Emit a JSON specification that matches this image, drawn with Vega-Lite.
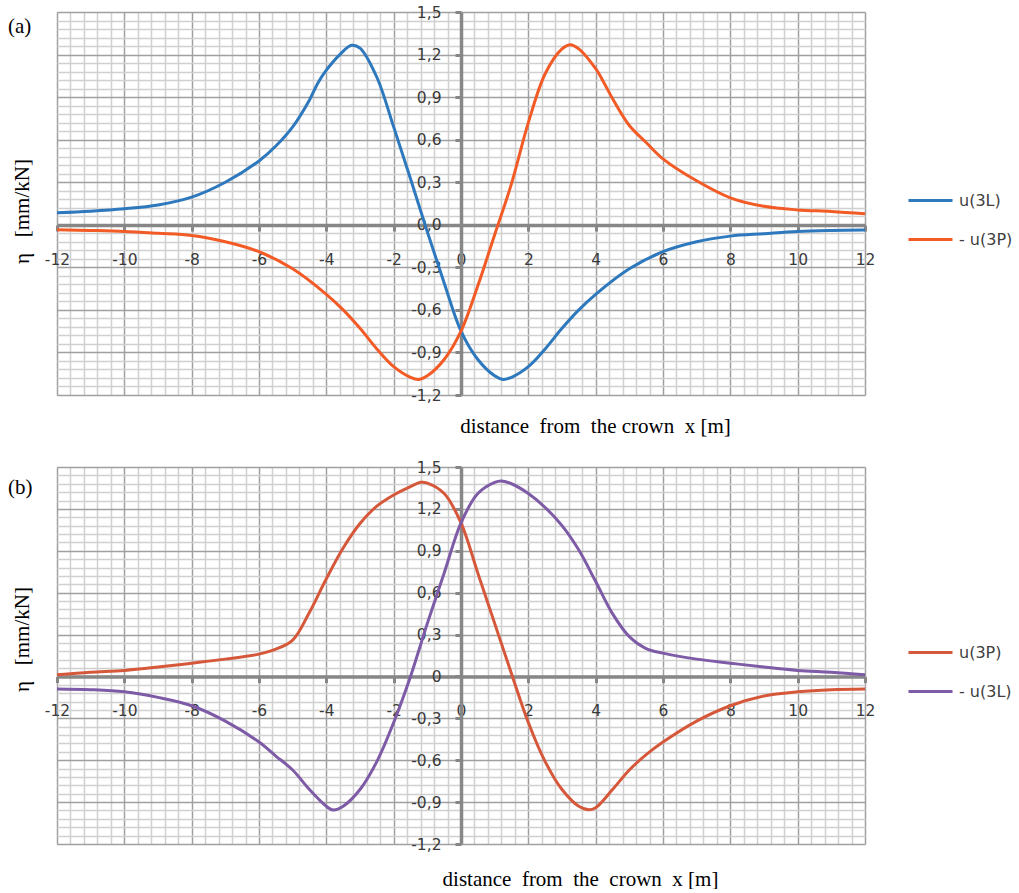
{
  "$schema": "https://vega.github.io/schema/vega-lite/v6.json",
  "padding": {"left": 8, "top": 5, "right": 5, "bottom": 0},
  "config": {
    "view": {"stroke": null},
    "axis": {"zindex": 0, "labelFlush": false, "labelOverlap": false},
    "legend": {
      "orient": "none", "title": null,
      "symbolType": "stroke", "symbolSize": 1936, "symbolStrokeWidth": 3,
      "labelFont": "DejaVu Sans", "labelFontSize": 16, "labelColor": "#404040",
      "rowPadding": 7, "labelOffset": 5, "padding": 0
    }
  },
  "spacing": 72,
  "bounds": "flush",
  "resolve": {"scale": {"color": "independent"}, "legend": {"color": "independent"}},
  "vconcat": [
    {
      "width": 808,
      "height": 383,
      "title": {"text": "(a)", "orient": "none", "anchor": "start", "frame": "group", "font": "Liberation Serif", "fontSize": 21, "fontWeight": "normal", "color": "#000000", "baseline": "alphabetic", "offset": 0, "dx": -49, "dy": 21},
      "resolve": {"axis": {"x": "independent", "y": "independent"}},
      "layer": [
        {
          "data": {"values": [
            {"x": -12, "y": 0.085, "s": "u(3L)"}, {"x": -11, "y": 0.096, "s": "u(3L)"}, {"x": -10, "y": 0.113, "s": "u(3L)"},
            {"x": -9, "y": 0.14, "s": "u(3L)"}, {"x": -8, "y": 0.195, "s": "u(3L)"}, {"x": -7, "y": 0.3, "s": "u(3L)"},
            {"x": -6, "y": 0.45, "s": "u(3L)"}, {"x": -5.5, "y": 0.555, "s": "u(3L)"}, {"x": -5, "y": 0.69, "s": "u(3L)"},
            {"x": -4.5, "y": 0.88, "s": "u(3L)"}, {"x": -4.25, "y": 1.0, "s": "u(3L)"}, {"x": -4, "y": 1.09, "s": "u(3L)"},
            {"x": -3.6, "y": 1.2, "s": "u(3L)"}, {"x": -3.25, "y": 1.265, "s": "u(3L)"}, {"x": -3, "y": 1.245, "s": "u(3L)"},
            {"x": -2.5, "y": 1.04, "s": "u(3L)"}, {"x": -2, "y": 0.69, "s": "u(3L)"}, {"x": -1.5, "y": 0.325, "s": "u(3L)"},
            {"x": -1, "y": -0.05, "s": "u(3L)"}, {"x": -0.5, "y": -0.41, "s": "u(3L)"}, {"x": 0, "y": -0.75, "s": "u(3L)"},
            {"x": 0.5, "y": -0.95, "s": "u(3L)"}, {"x": 1, "y": -1.065, "s": "u(3L)"}, {"x": 1.25, "y": -1.09, "s": "u(3L)"},
            {"x": 1.5, "y": -1.075, "s": "u(3L)"}, {"x": 2, "y": -1.0, "s": "u(3L)"}, {"x": 2.5, "y": -0.875, "s": "u(3L)"},
            {"x": 3, "y": -0.73, "s": "u(3L)"}, {"x": 3.5, "y": -0.6, "s": "u(3L)"}, {"x": 4, "y": -0.49, "s": "u(3L)"},
            {"x": 5, "y": -0.31, "s": "u(3L)"}, {"x": 6, "y": -0.19, "s": "u(3L)"}, {"x": 7, "y": -0.12, "s": "u(3L)"},
            {"x": 8, "y": -0.08, "s": "u(3L)"}, {"x": 9, "y": -0.063, "s": "u(3L)"}, {"x": 10, "y": -0.047, "s": "u(3L)"},
            {"x": 11, "y": -0.04, "s": "u(3L)"}, {"x": 12, "y": -0.037, "s": "u(3L)"},
            {"x": -12, "y": -0.035, "s": "- u(3P)"}, {"x": -11, "y": -0.04, "s": "- u(3P)"}, {"x": -10, "y": -0.047, "s": "- u(3P)"},
            {"x": -9, "y": -0.06, "s": "- u(3P)"}, {"x": -8, "y": -0.075, "s": "- u(3P)"}, {"x": -7, "y": -0.12, "s": "- u(3P)"},
            {"x": -6, "y": -0.19, "s": "- u(3P)"}, {"x": -5, "y": -0.31, "s": "- u(3P)"}, {"x": -4, "y": -0.49, "s": "- u(3P)"},
            {"x": -3.5, "y": -0.6, "s": "- u(3P)"}, {"x": -3, "y": -0.73, "s": "- u(3P)"}, {"x": -2.5, "y": -0.875, "s": "- u(3P)"},
            {"x": -2, "y": -1.0, "s": "- u(3P)"}, {"x": -1.5, "y": -1.075, "s": "- u(3P)"}, {"x": -1.25, "y": -1.09, "s": "- u(3P)"},
            {"x": -1, "y": -1.065, "s": "- u(3P)"}, {"x": -0.5, "y": -0.95, "s": "- u(3P)"}, {"x": 0, "y": -0.75, "s": "- u(3P)"},
            {"x": 0.5, "y": -0.43, "s": "- u(3P)"}, {"x": 1, "y": -0.07, "s": "- u(3P)"}, {"x": 1.5, "y": 0.29, "s": "- u(3P)"},
            {"x": 2, "y": 0.72, "s": "- u(3P)"}, {"x": 2.5, "y": 1.065, "s": "- u(3P)"}, {"x": 3, "y": 1.24, "s": "- u(3P)"},
            {"x": 3.25, "y": 1.27, "s": "- u(3P)"}, {"x": 3.5, "y": 1.24, "s": "- u(3P)"}, {"x": 4, "y": 1.1, "s": "- u(3P)"},
            {"x": 4.25, "y": 1.0, "s": "- u(3P)"}, {"x": 4.5, "y": 0.89, "s": "- u(3P)"}, {"x": 5, "y": 0.7, "s": "- u(3P)"},
            {"x": 5.5, "y": 0.58, "s": "- u(3P)"}, {"x": 6, "y": 0.465, "s": "- u(3P)"}, {"x": 7, "y": 0.31, "s": "- u(3P)"},
            {"x": 8, "y": 0.19, "s": "- u(3P)"}, {"x": 9, "y": 0.13, "s": "- u(3P)"}, {"x": 10, "y": 0.105, "s": "- u(3P)"},
            {"x": 11, "y": 0.094, "s": "- u(3P)"}, {"x": 12, "y": 0.078, "s": "- u(3P)"}
          ]},
          "mark": {"type": "line", "strokeWidth": 3, "interpolate": "catmull-rom"},
          "encoding": {
            "x": {"field": "x", "type": "quantitative", "scale": {"domain": [-12, 12], "nice": false, "zero": false},
              "axis": {
                "orient": "bottom",
                "values": [-12,-11.6,-11.2,-10.8,-10.4,-10,-9.6,-9.2,-8.8,-8.4,-8,-7.6,-7.2,-6.8,-6.4,-6,-5.6,-5.2,-4.8,-4.4,-4,-3.6,-3.2,-2.8,-2.4,-2,-1.6,-1.2,-0.8,-0.4,0,0.4,0.8,1.2,1.6,2,2.4,2.8,3.2,3.6,4,4.4,4.8,5.2,5.6,6,6.4,6.8,7.2,7.6,8,8.4,8.8,9.2,9.6,10,10.4,10.8,11.2,11.6,12],
                "grid": true, "gridWidth": 1.5,
                "gridColor": {"condition": {"test": "abs(datum.value/2 - round(datum.value/2)) < 0.001", "value": "#a0a0a0"}, "value": "#d0d0d0"},
                "labels": false, "ticks": false, "domain": false,
                "title": "distance\u00a0 from\u00a0 the crown\u00a0 x [m]", "titleFont": "Liberation Serif", "titleFontSize": 21, "titleFontWeight": "normal", "titleColor": "#000000",
                "titleX": 538, "titleY": 37, "titleAlign": "center", "titleBaseline": "alphabetic"
              }},
            "y": {"field": "y", "type": "quantitative", "scale": {"domain": [-1.2, 1.5], "nice": false, "zero": false},
              "axis": {
                "orient": "left",
                "values": [-1.2,-1.14,-1.08,-1.02,-0.96,-0.9,-0.84,-0.78,-0.72,-0.66,-0.6,-0.54,-0.48,-0.42,-0.36,-0.3,-0.24,-0.18,-0.12,-0.06,0,0.06,0.12,0.18,0.24,0.3,0.36,0.42,0.48,0.54,0.6,0.66,0.72,0.78,0.84,0.9,0.96,1.02,1.08,1.14,1.2,1.26,1.32,1.38,1.44,1.5],
                "grid": true, "gridWidth": 1.5,
                "gridColor": {"condition": {"test": "abs(datum.value/0.3 - round(datum.value/0.3)) < 0.001", "value": "#a0a0a0"}, "value": "#d0d0d0"},
                "labels": false, "ticks": false, "domain": false,
                "title": "η\u00a0\u00a0 [mm/kN]", "titleFont": "Liberation Serif", "titleFontSize": 21, "titleFontWeight": "normal", "titleColor": "#000000",
                "titleX": -35, "titleY": 199, "titleAngle": -90, "titleAlign": "center", "titleBaseline": "middle"
              }},
            "color": {"field": "s", "type": "nominal", "scale": {"domain": ["u(3L)", "- u(3P)"], "range": ["#2E78BD", "#F25A26"]}, "legend": {"legendX": 850, "legendY": 165}}
          }
        },
        {
          "data": {"values": [{}]},
          "mark": {"type": "rule", "opacity": 0},
          "encoding": {
            "x": {"datum": 0, "type": "quantitative",
              "axis": {
                "orient": "bottom",
                "values": [-12,-10,-8,-6,-4,-2,0,2,4,6,8,10,12], "offset": -170, "grid": false,
                "domain": true, "domainColor": "#878787", "domainWidth": 3.5,
                "ticks": true, "tickSize": 6, "tickWidth": 3, "tickColor": "#878787",
                "labelExpr": "(datum.value < 0 ? '-' : '') + abs(datum.value)",
                "labelFont": "DejaVu Sans", "labelFontSize": 15.5, "labelColor": "#3a3a3a", "labelPadding": 21,
                "title": null
              }}
          }
        },
        {
          "data": {"values": [{}]},
          "mark": {"type": "rule", "opacity": 0},
          "encoding": {
            "y": {"datum": 0, "type": "quantitative",
              "axis": {
                "orient": "left",
                "values": [-1.2,-0.9,-0.6,-0.3,0,0.3,0.6,0.9,1.2,1.5], "offset": -404, "grid": false,
                "domain": true, "domainColor": "#878787", "domainWidth": 3.5,
                "ticks": true, "tickSize": 6, "tickWidth": 3, "tickColor": "#878787",
                "labelExpr": "(datum.value < 0 ? '-' : '') + replace(format(abs(datum.value), '.1f'), '.', ',')",
                "labelFont": "DejaVu Sans", "labelFontSize": 15.5, "labelColor": "#3a3a3a", "labelPadding": 14,
                "title": null
              }}
          }
        }
      ]
    },
    {
      "width": 808,
      "height": 377,
      "title": {"text": "(b)", "orient": "none", "anchor": "start", "frame": "group", "font": "Liberation Serif", "fontSize": 21, "fontWeight": "normal", "color": "#000000", "baseline": "alphabetic", "offset": 0, "dx": -49, "dy": 27},
      "resolve": {"axis": {"x": "independent", "y": "independent"}},
      "layer": [
        {
          "data": {"values": [
            {"x": -12, "y": 0.012, "s": "u(3P)"}, {"x": -11, "y": 0.03, "s": "u(3P)"}, {"x": -10, "y": 0.043, "s": "u(3P)"},
            {"x": -9, "y": 0.067, "s": "u(3P)"}, {"x": -8, "y": 0.095, "s": "u(3P)"}, {"x": -7, "y": 0.124, "s": "u(3P)"},
            {"x": -6, "y": 0.16, "s": "u(3P)"}, {"x": -5.5, "y": 0.195, "s": "u(3P)"}, {"x": -5, "y": 0.26, "s": "u(3P)"},
            {"x": -4.5, "y": 0.46, "s": "u(3P)"}, {"x": -4, "y": 0.7, "s": "u(3P)"}, {"x": -3.5, "y": 0.92, "s": "u(3P)"},
            {"x": -3, "y": 1.095, "s": "u(3P)"}, {"x": -2.5, "y": 1.22, "s": "u(3P)"}, {"x": -2, "y": 1.3, "s": "u(3P)"},
            {"x": -1.5, "y": 1.36, "s": "u(3P)"}, {"x": -1.2, "y": 1.39, "s": "u(3P)"}, {"x": -1, "y": 1.385, "s": "u(3P)"},
            {"x": -0.5, "y": 1.31, "s": "u(3P)"}, {"x": 0, "y": 1.1, "s": "u(3P)"}, {"x": 0.5, "y": 0.74, "s": "u(3P)"},
            {"x": 1, "y": 0.38, "s": "u(3P)"}, {"x": 1.5, "y": 0.02, "s": "u(3P)"}, {"x": 2, "y": -0.33, "s": "u(3P)"},
            {"x": 2.5, "y": -0.61, "s": "u(3P)"}, {"x": 3, "y": -0.81, "s": "u(3P)"}, {"x": 3.5, "y": -0.93, "s": "u(3P)"},
            {"x": 3.8, "y": -0.955, "s": "u(3P)"}, {"x": 4, "y": -0.94, "s": "u(3P)"}, {"x": 4.5, "y": -0.81, "s": "u(3P)"},
            {"x": 5, "y": -0.67, "s": "u(3P)"}, {"x": 5.5, "y": -0.56, "s": "u(3P)"}, {"x": 6, "y": -0.47, "s": "u(3P)"},
            {"x": 7, "y": -0.32, "s": "u(3P)"}, {"x": 8, "y": -0.21, "s": "u(3P)"}, {"x": 9, "y": -0.14, "s": "u(3P)"},
            {"x": 10, "y": -0.11, "s": "u(3P)"}, {"x": 11, "y": -0.095, "s": "u(3P)"}, {"x": 12, "y": -0.09, "s": "u(3P)"},
            {"x": -12, "y": -0.09, "s": "- u(3L)"}, {"x": -11, "y": -0.095, "s": "- u(3L)"}, {"x": -10, "y": -0.11, "s": "- u(3L)"},
            {"x": -9, "y": -0.15, "s": "- u(3L)"}, {"x": -8, "y": -0.21, "s": "- u(3L)"}, {"x": -7, "y": -0.32, "s": "- u(3L)"},
            {"x": -6, "y": -0.47, "s": "- u(3L)"}, {"x": -5.5, "y": -0.57, "s": "- u(3L)"}, {"x": -5, "y": -0.67, "s": "- u(3L)"},
            {"x": -4.5, "y": -0.81, "s": "- u(3L)"}, {"x": -4, "y": -0.93, "s": "- u(3L)"}, {"x": -3.8, "y": -0.957, "s": "- u(3L)"},
            {"x": -3.5, "y": -0.93, "s": "- u(3L)"}, {"x": -3, "y": -0.81, "s": "- u(3L)"}, {"x": -2.5, "y": -0.61, "s": "- u(3L)"},
            {"x": -2, "y": -0.33, "s": "- u(3L)"}, {"x": -1.5, "y": 0.0, "s": "- u(3L)"}, {"x": -1, "y": 0.38, "s": "- u(3L)"},
            {"x": -0.5, "y": 0.74, "s": "- u(3L)"}, {"x": 0, "y": 1.1, "s": "- u(3L)"}, {"x": 0.5, "y": 1.31, "s": "- u(3L)"},
            {"x": 1, "y": 1.39, "s": "- u(3L)"}, {"x": 1.2, "y": 1.4, "s": "- u(3L)"}, {"x": 1.5, "y": 1.38, "s": "- u(3L)"},
            {"x": 2, "y": 1.31, "s": "- u(3L)"}, {"x": 2.5, "y": 1.21, "s": "- u(3L)"}, {"x": 3, "y": 1.08, "s": "- u(3L)"},
            {"x": 3.5, "y": 0.905, "s": "- u(3L)"}, {"x": 4, "y": 0.68, "s": "- u(3L)"}, {"x": 4.5, "y": 0.45, "s": "- u(3L)"},
            {"x": 5, "y": 0.285, "s": "- u(3L)"}, {"x": 5.5, "y": 0.2, "s": "- u(3L)"}, {"x": 6, "y": 0.167, "s": "- u(3L)"},
            {"x": 7, "y": 0.124, "s": "- u(3L)"}, {"x": 8, "y": 0.095, "s": "- u(3L)"}, {"x": 9, "y": 0.067, "s": "- u(3L)"},
            {"x": 10, "y": 0.043, "s": "- u(3L)"}, {"x": 11, "y": 0.03, "s": "- u(3L)"}, {"x": 12, "y": 0.012, "s": "- u(3L)"}
          ]},
          "mark": {"type": "line", "strokeWidth": 3, "interpolate": "catmull-rom"},
          "encoding": {
            "x": {"field": "x", "type": "quantitative", "scale": {"domain": [-12, 12], "nice": false, "zero": false},
              "axis": {
                "orient": "bottom",
                "values": [-12,-11.6,-11.2,-10.8,-10.4,-10,-9.6,-9.2,-8.8,-8.4,-8,-7.6,-7.2,-6.8,-6.4,-6,-5.6,-5.2,-4.8,-4.4,-4,-3.6,-3.2,-2.8,-2.4,-2,-1.6,-1.2,-0.8,-0.4,0,0.4,0.8,1.2,1.6,2,2.4,2.8,3.2,3.6,4,4.4,4.8,5.2,5.6,6,6.4,6.8,7.2,7.6,8,8.4,8.8,9.2,9.6,10,10.4,10.8,11.2,11.6,12],
                "grid": true, "gridWidth": 1.5,
                "gridColor": {"condition": {"test": "abs(datum.value/2 - round(datum.value/2)) < 0.001", "value": "#a0a0a0"}, "value": "#d0d0d0"},
                "labels": false, "ticks": false, "domain": false,
                "title": "distance\u00a0 from\u00a0 the\u00a0 crown\u00a0 x [m]", "titleFont": "Liberation Serif", "titleFontSize": 21, "titleFontWeight": "normal", "titleColor": "#000000",
                "titleX": 523, "titleY": 41, "titleAlign": "center", "titleBaseline": "alphabetic"
              }},
            "y": {"field": "y", "type": "quantitative", "scale": {"domain": [-1.2, 1.5], "nice": false, "zero": false},
              "axis": {
                "orient": "left",
                "values": [-1.2,-1.14,-1.08,-1.02,-0.96,-0.9,-0.84,-0.78,-0.72,-0.66,-0.6,-0.54,-0.48,-0.42,-0.36,-0.3,-0.24,-0.18,-0.12,-0.06,0,0.06,0.12,0.18,0.24,0.3,0.36,0.42,0.48,0.54,0.6,0.66,0.72,0.78,0.84,0.9,0.96,1.02,1.08,1.14,1.2,1.26,1.32,1.38,1.44,1.5],
                "grid": true, "gridWidth": 1.5,
                "gridColor": {"condition": {"test": "abs(datum.value/0.3 - round(datum.value/0.3)) < 0.001", "value": "#a0a0a0"}, "value": "#d0d0d0"},
                "labels": false, "ticks": false, "domain": false,
                "title": "η\u00a0\u00a0 [mm/kN]", "titleFont": "Liberation Serif", "titleFontSize": 21, "titleFontWeight": "normal", "titleColor": "#000000",
                "titleX": -35, "titleY": 172, "titleAngle": -90, "titleAlign": "center", "titleBaseline": "middle"
              }},
            "color": {"field": "s", "type": "nominal", "scale": {"domain": ["u(3P)", "- u(3L)"], "range": ["#D6583B", "#7E5BA6"]}, "legend": {"legendX": 850, "legendY": 162}}
          }
        },
        {
          "data": {"values": [{}]},
          "mark": {"type": "rule", "opacity": 0},
          "encoding": {
            "x": {"datum": 0, "type": "quantitative",
              "axis": {
                "orient": "bottom",
                "values": [-12,-10,-8,-6,-4,-2,0,2,4,6,8,10,12], "offset": -167.5, "grid": false,
                "domain": true, "domainColor": "#878787", "domainWidth": 3.5,
                "ticks": true, "tickSize": 6, "tickWidth": 3, "tickColor": "#878787",
                "labelExpr": "(datum.value < 0 ? '-' : '') + abs(datum.value)",
                "labelFont": "DejaVu Sans", "labelFontSize": 15.5, "labelColor": "#3a3a3a", "labelPadding": 21,
                "title": null
              }}
          }
        },
        {
          "data": {"values": [{}]},
          "mark": {"type": "rule", "opacity": 0},
          "encoding": {
            "y": {"datum": 0, "type": "quantitative",
              "axis": {
                "orient": "left",
                "values": [-1.2,-0.9,-0.6,-0.3,0,0.3,0.6,0.9,1.2,1.5], "offset": -404, "grid": false,
                "domain": true, "domainColor": "#878787", "domainWidth": 3.5,
                "ticks": true, "tickSize": 6, "tickWidth": 3, "tickColor": "#878787",
                "labelExpr": "datum.value == 0 ? '0' : (datum.value < 0 ? '-' : '') + replace(format(abs(datum.value), '.1f'), '.', ',')",
                "labelFont": "DejaVu Sans", "labelFontSize": 15.5, "labelColor": "#3a3a3a", "labelPadding": 14,
                "title": null
              }}
          }
        }
      ]
    }
  ]
}
